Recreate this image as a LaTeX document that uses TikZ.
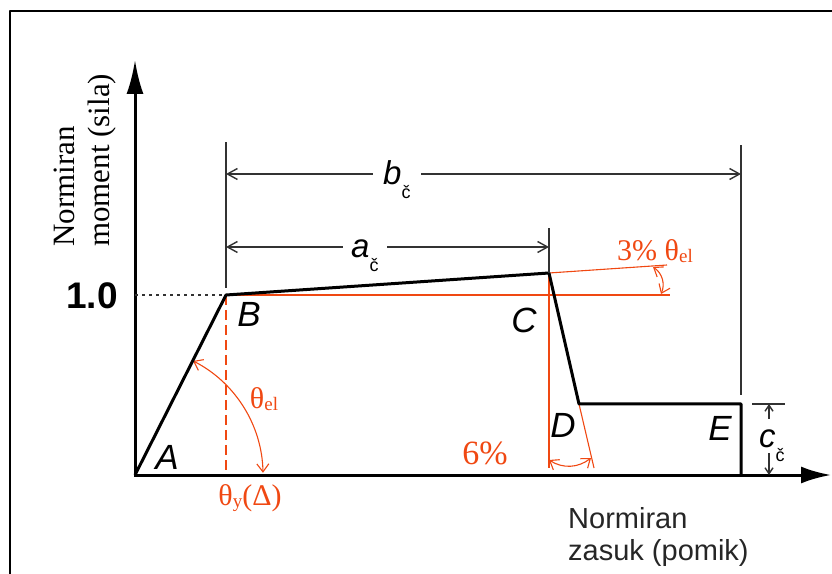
\documentclass[tikz,border=0pt]{standalone}
\usepackage{fontspec}
\setmainfont{Liberation Serif}
\setsansfont{Liberation Sans}
\usetikzlibrary{arrows.meta}
\definecolor{orred}{RGB}{240,72,18}
\definecolor{dimgrey}{RGB}{50,50,50}
\newcommand{\csub}[1]{\raisebox{-14pt}{\fontsize{18}{18}\selectfont\upshape #1}}
\newcommand{\rsub}[1]{\raisebox{-2pt}{\fontsize{19}{19}\selectfont #1}}
\begin{document}
\begin{tikzpicture}[x=1pt,y=1pt,line join=round,
  >={Straight Barb[length=10pt,width=11pt]},
  curve/.style={line width=3pt},
  dimline/.style={line width=1.4pt,draw=dimgrey},
  redline/.style={line width=1.1pt,draw=orred},
  redarrow/.style={<->,>={Straight Barb[length=8pt,width=12pt]}},
  pt/.style={font=\fontsize{35}{35}\selectfont\sffamily\itshape,inner sep=0pt},
  dimlabel/.style={font=\fontsize{33}{33}\selectfont\sffamily\itshape,fill=white,inner ysep=2pt},
  redlabel/.style={font=\fontsize{30}{30}\selectfont,text=orred,inner sep=0pt}]
  \useasboundingbox (0,0) rectangle (832,573);
  % frame
  \draw[line width=2.5pt] (10,-2) -- (10,562) -- (834,562);
  % points of the curve
  \coordinate (A) at (135,98);
  \coordinate (B) at (226,278);
  \coordinate (C) at (549,300);
  \coordinate (D) at (579,169);
  \coordinate (E) at (741,169);
  \coordinate (Ebot) at (741,98);
  \coordinate (ytip) at (135,513);
  \coordinate (xtip) at (831,98);
  \coordinate (yone) at (135,278);
  % red construction lines
  \coordinate (Bh) at (670,278);
  \coordinate (Cx) at (667,308);
  \coordinate (Cv) at (549,105);
  \coordinate (Dx) at (594,105);
  \coordinate (By) at (226,98);
  \draw[redline] (B) -- (Bh);
  \draw[redline] (C) -- (Cx);
  \draw[redline] (C) -- (Cv);
  \draw[redline] (D) -- (Dx);
  \draw[redline,dash pattern=on 10pt off 5pt] (B) -- (By);
  \draw[redline,redarrow] (A) ++(63:128) arc[start angle=63,end angle=1,radius=128];
  \coordinate (tw1) at (653,306);
  \coordinate (tw2) at (661,279);
  \draw[redline,redarrow] (tw1) to[bend left=40] (tw2);
  \coordinate (sx1) at (549,113);
  \coordinate (sx2) at (591,115);
  \draw[redline,redarrow] (sx1) to[bend right=35] (sx2);
  % axes and curve
  \draw[curve,line join=miter,{Latex[length=34pt,width=17pt]}-{Latex[length=30pt,width=17pt]}] (ytip) -- (A) -- (xtip);
  \draw[curve] (A) -- (B) -- (C) -- (D) -- (E) -- (Ebot);
  \draw[dimline,dash pattern=on 3pt off 4pt] (yone) -- (B);
  % dimensions
  \draw[dimline] (B) ++(0,7) -- ++(0,146);
  \draw[dimline] (C) -- ++(0,45);
  \draw[dimline] (E) ++(0,9) -- ++(0,250);
  \coordinate (bL) at (226,399);
  \coordinate (bR) at (741,399);
  \coordinate (aL) at (226,326);
  \coordinate (aR) at (549,326);
  \draw[dimline,<->] (bL) -- (bR);
  \draw[dimline,<->] (aL) -- (aR);
  \node[dimlabel,anchor=base west,inner xsep=10pt] (blab) at (373,388) {b\csub{č}};
  \node[dimlabel,anchor=base west,inner xsep=8pt] (alab) at (343,315) {a\csub{č}};
  \coordinate (ctop) at (769,169);
  \coordinate (cbot) at (769,98);
  \draw[dimline] (E) ++(11,0) -- ++(33,0);
  \draw[dimline,->,>={Straight Barb[length=6pt,width=8pt]}] (ctop) ++(0,-15) -- (ctop);
  \draw[dimline,->,>={Straight Barb[length=6pt,width=8pt]}] (cbot) ++(0,22) -- (cbot);
  \node[font=\fontsize{33}{33}\selectfont\sffamily\itshape,anchor=base west,inner sep=0pt] (clab) at (759,125) {c\csub{č}};
  % labels
  \node[pt] (labA) at (167,116) {A};
  \node[pt] (labB) at (249,259) {B};
  \node[pt] (labC) at (524,253) {C};
  \node[pt] (labD) at (563,148) {D};
  \node[pt] (labE) at (720,145) {E};
  \node[font=\fontsize{37}{37}\selectfont\sffamily\bfseries,inner sep=0pt] (one) at (92,277) {1.0};
  \node[redlabel] (thel) at (264,174) {θ\rsub{el}};
  \node[redlabel] (thy) at (250,75) {θ\rsub{y}(Δ)};
  \node[redlabel,font=\fontsize{34}{34}\selectfont] (six) at (485,120) {6\%};
  \node[redlabel] (three) at (655,322) {3\% θ\rsub{el}};
  \node[rotate=90,anchor=north west,align=left,inner sep=0pt,font=\fontsize{31}{35}\selectfont] (ylab) at (54,326) {Normiran\\moment (sila)};
  \node[anchor=north west,align=left,inner sep=0pt,font=\fontsize{29}{32}\selectfont\sffamily,text=black!85] (xlab) at (568,66) {Normiran\\zasuk (pomik)};
\end{tikzpicture}
\end{document}
